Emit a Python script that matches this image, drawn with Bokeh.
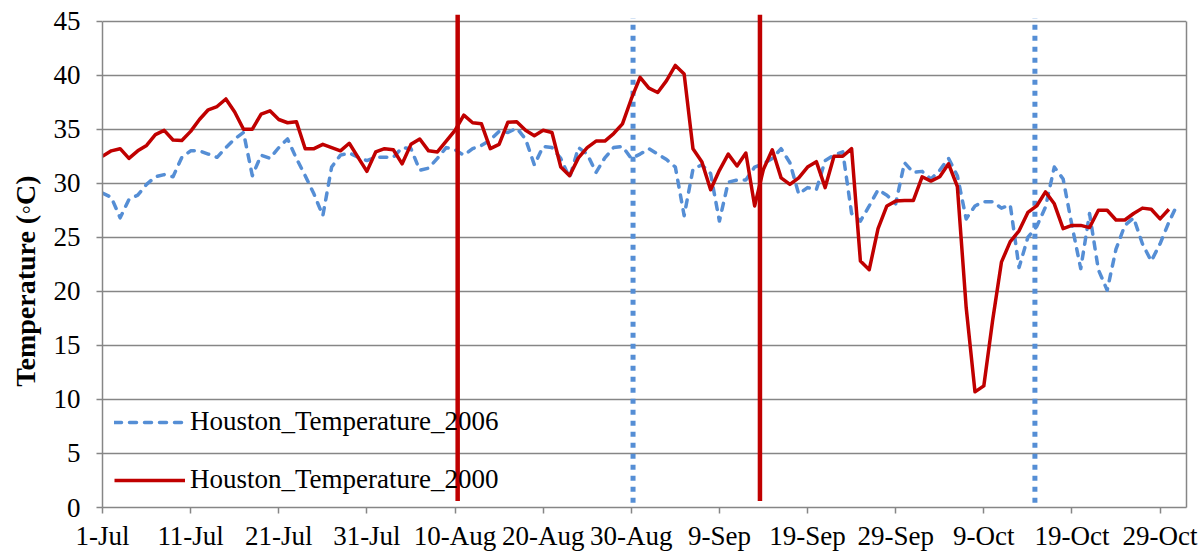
from bokeh.plotting import figure
from bokeh.models import Range1d, FixedTicker, LinearAxis, Legend, LegendItem
from bokeh.embed import file_html
from bokeh.resources import INLINE

# ---- data -------------------------------------------------------------
tick_days = [0, 10, 20, 30, 40, 50, 60, 70, 80, 90, 100, 110, 120]
tick_labels = ["1-Jul", "11-Jul", "21-Jul", "31-Jul", "10-Aug", "20-Aug", "30-Aug",
               "9-Sep", "19-Sep", "29-Sep", "9-Oct", "19-Oct", "29-Oct"]
y_ticks = [0, 5, 10, 15, 20, 25, 30, 35, 40, 45]

# daily temperatures starting 1-Jul (index = days after 1-Jul)
temp_2006 = [29.1, 28.7, 26.8, 28.5, 28.9, 29.9, 30.6, 30.8, 30.6, 32.4,
             33.0, 33.0, 32.7, 32.4, 33.3, 34.1, 34.7, 30.7, 32.6, 32.3,
             33.3, 34.1, 32.3, 30.7, 29.0, 27.0, 31.5, 32.6, 32.8, 32.4,
             32.1, 32.4, 32.4, 32.4, 33.3, 33.2, 31.2, 31.4, 32.3, 33.3,
             33.1, 32.6, 33.2, 33.5, 34.0, 34.8, 34.7, 35.1, 34.1, 31.7,
             33.4, 33.3, 32.3, 30.5, 33.3, 32.7, 31.0, 32.35, 33.3, 33.4,
             32.3, 32.7, 33.2, 32.7, 32.2, 31.5, 27.0, 31.3, 31.7, 30.9,
             26.5, 30.1, 30.3, 30.3, 31.5, 31.8, 32.3, 33.2, 31.9, 29.0,
             29.6, 29.4, 32.1, 32.6, 32.9, 27.2, 26.5, 27.9, 29.4, 28.9,
             28.1, 31.9, 31.0, 31.1, 30.4, 31.2, 32.3, 30.7, 26.7, 27.9,
             28.3, 28.3, 27.7, 28.0, 22.2, 25.0, 26.0, 27.8, 31.5, 30.4,
             26.1, 22.1, 27.2, 22.0, 20.1, 23.9, 26.1, 26.8, 24.4, 22.8,
             24.4, 26.4, 28.1]
temp_2000 = [32.5, 33.0, 33.2, 32.3, 33.0, 33.5, 34.5, 34.9, 34.0, 33.95,
             34.8, 35.9, 36.8, 37.1, 37.8, 36.6, 35.0, 35.0, 36.4, 36.7,
             35.9, 35.6, 35.7, 33.2, 33.2, 33.6, 33.3, 33.0, 33.7, 32.4,
             31.1, 32.9, 33.2, 33.1, 31.8, 33.6, 34.1, 33.0, 32.9, 33.9,
             34.9, 36.3, 35.6, 35.5, 33.2, 33.6, 35.65, 35.7, 34.9, 34.4,
             34.9, 34.7, 31.5, 30.7, 32.35, 33.3, 33.9, 33.9, 34.6, 35.5,
             37.8, 39.8, 38.8, 38.4, 39.5, 40.9, 40.1, 33.2, 32.0, 29.4,
             31.2, 32.7, 31.6, 32.8, 27.9, 31.3, 33.1, 30.5, 29.9, 30.5,
             31.5, 32.0, 29.6, 32.5, 32.5, 33.2, 22.8, 22.0, 25.8, 27.9,
             28.35, 28.4, 28.4, 30.6, 30.2, 30.6, 31.8, 29.7, 18.5, 10.7,
             11.25, 17.3, 22.7, 24.6, 25.6, 27.3, 27.9, 29.2, 28.1, 25.8,
             26.1, 26.1, 25.9, 27.5, 27.5, 26.6, 26.6, 27.2, 27.7, 27.6,
             26.7, 27.6]
days_2006 = list(range(len(temp_2006)))
days_2000 = list(range(len(temp_2000)))

# event markers (day positions) and their vertical extents
events_2006 = [60.2, 105.8]
events_2006_bottom = [0.45, 0.45]
events_2006_top = [45.25, 45.25]
events_2000 = [40.3, 74.6]
events_2000_bottom = [0.6, 0.6]
events_2000_top = [45.6, 45.6]

# ---- styling ----------------------------------------------------------
BLUE = "#558ED5"
RED = "#C00000"
GRAY = "#868686"
FONT = "Liberation Serif"
FS = "27px"

p = figure(width=1202, height=554,
           x_range=Range1d(0, 123), y_range=Range1d(0, 45.8),
           output_backend="svg", toolbar_location=None,
           min_border_left=102, min_border_right=16,
           min_border_top=12, min_border_bottom=47)
p.outline_line_color = None
p.background_fill_color = "white"
p.border_fill_color = "white"

# axes
xa = p.xaxis[0]
xa.ticker = FixedTicker(ticks=tick_days)
xa.major_label_overrides = {d: l for d, l in zip(tick_days, tick_labels)}
xa.axis_line_color = GRAY
xa.axis_line_width = 1.5
xa.major_tick_line_color = GRAY
xa.major_tick_line_width = 1.5
xa.major_tick_out = 6
xa.major_tick_in = 0
xa.minor_tick_line_color = None
xa.major_label_standoff = 7
xa.major_label_text_font = FONT
xa.major_label_text_font_size = FS
xa.major_label_text_color = "black"

ya = p.yaxis[0]
ya.ticker = FixedTicker(ticks=y_ticks)
ya.bounds = (0, 45)
ya.axis_line_color = GRAY
ya.axis_line_width = 1.5
ya.major_tick_line_color = GRAY
ya.major_tick_line_width = 1.5
ya.major_tick_out = 6
ya.major_tick_in = 0
ya.minor_tick_line_color = None
ya.major_label_standoff = 16
ya.major_label_text_font = FONT
ya.major_label_text_font_size = FS
ya.major_label_text_color = "black"
ya.axis_label = "Temperature (\u25e6C)" + "\u00a0" * 6
ya.axis_label_text_font = FONT
ya.axis_label_text_font_size = "28px"
ya.axis_label_text_font_style = "bold"
ya.axis_label_text_color = "black"
ya.axis_label_standoff = 10

# right border of the plot area
ra = LinearAxis(ticker=FixedTicker(ticks=[]), bounds=(0, 45))
ra.axis_line_color = GRAY
ra.axis_line_width = 1.5
ra.major_tick_line_color = None
ra.minor_tick_line_color = None
ra.major_label_standoff = 0
p.add_layout(ra, "right")

p.xgrid.grid_line_color = None
p.ygrid.ticker = FixedTicker(ticks=y_ticks)
p.ygrid.grid_line_color = GRAY
p.ygrid.grid_line_width = 1.5

# ---- glyphs -----------------------------------------------------------
r06 = p.line(days_2006, temp_2006, line_color=BLUE, line_width=3.5,
             line_dash="7 8", line_cap="round", line_join="round")
p.segment(x0=events_2006, y0=events_2006_bottom, x1=events_2006, y1=events_2006_top,
          line_color=BLUE, line_width=5, line_dash="5 6", line_cap="butt")
r00 = p.line(days_2000, temp_2000, line_color=RED, line_width=3.5, line_join="round")
p.segment(x0=events_2000, y0=events_2000_bottom, x1=events_2000, y1=events_2000_top,
          line_color=RED, line_width=4.5)

legend = Legend(items=[LegendItem(label="Houston_Temperature_2006", renderers=[r06]),
                       LegendItem(label="Houston_Temperature_2000", renderers=[r00])],
                location="bottom_left",
                glyph_width=71, glyph_height=30, label_height=30, spacing=27,
                label_standoff=5, padding=10, margin=12,
                label_text_font=FONT, label_text_font_size=FS,
                label_text_color="black",
                border_line_color=None, background_fill_alpha=0)
legend.level = "underlay"
p.add_layout(legend, "center")

open("out.html", "w").write(file_html(p, INLINE))
